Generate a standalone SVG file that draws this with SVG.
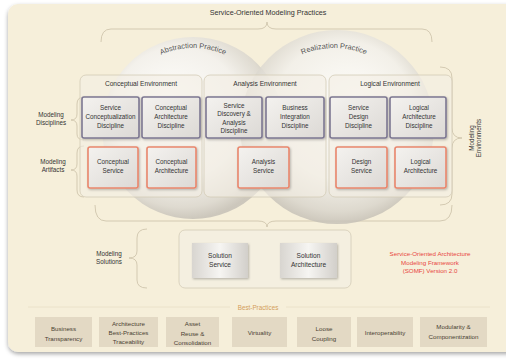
<svg xmlns="http://www.w3.org/2000/svg" width="506" height="361" viewBox="0 0 506 361">
<defs>
<radialGradient id="circL" cx="0.45" cy="0.45" r="0.55" fx="0.35" fy="0.35">
<stop offset="0" stop-color="#ffffff"/>
<stop offset="0.65" stop-color="#f3f1ed"/>
<stop offset="0.9" stop-color="#dcd8cf"/>
<stop offset="1" stop-color="#c8c3b9"/>
</radialGradient>
<radialGradient id="circR" cx="0.5" cy="0.45" r="0.55" fx="0.6" fy="0.35">
<stop offset="0" stop-color="#ffffff"/>
<stop offset="0.65" stop-color="#f2f0eb"/>
<stop offset="0.9" stop-color="#d9d5cc"/>
<stop offset="1" stop-color="#c5c0b6"/>
</radialGradient>
<linearGradient id="boxG" x1="0" y1="0" x2="1" y2="1">
<stop offset="0" stop-color="#f4f2ef"/>
<stop offset="1" stop-color="#dcd9d5"/>
</linearGradient>
<linearGradient id="solG" x1="0" y1="0" x2="1" y2="0">
<stop offset="0" stop-color="#d8d5d0"/>
<stop offset="0.5" stop-color="#f6f5f2"/>
<stop offset="1" stop-color="#d2cfca"/>
</linearGradient>
<filter id="sh" x="-10%" y="-10%" width="130%" height="130%">
<feDropShadow dx="1" dy="1.2" stdDeviation="1" flood-color="#000" flood-opacity="0.25"/>
</filter>
<filter id="bgsh" x="-5%" y="-5%" width="110%" height="110%">
<feDropShadow dx="0" dy="2" stdDeviation="2" flood-color="#000" flood-opacity="0.35"/>
</filter>
<path id="arcL" d="M 113,128 A 80,80 0 0 1 273,128"/>
<path id="arcR" d="M 254,128 A 80,80 0 0 1 414,128"/>
<style>
text{font-family:"Liberation Sans",Arial,sans-serif;fill:#333;text-anchor:middle}
.t{font-size:6.3px}
.h{font-size:6.6px}
.ttl{font-size:7.2px}
.arc{font-size:7.4px;fill:#555}
.env{fill:#f3efe5;fill-opacity:0.6;stroke:#d3cbb6;stroke-width:0.8}
.dis{fill:url(#boxG);stroke:#7c7791;stroke-width:1.6;filter:url(#sh)}
.art{fill:url(#boxG);stroke:#e9866c;stroke-width:1.6;filter:url(#sh)}
.br{fill:none;stroke:#cfc5ad;stroke-width:0.9}
.bp{fill:#e3d9c4}
.bpt{font-size:6.2px;fill:#4a4232}
.red{font-size:6.2px;fill:#e8463e}
.sol{fill:url(#solG);filter:url(#sh)}
</style>
</defs>
<rect x="0" y="0" width="506" height="361" fill="#ffffff"/>
<rect x="8" y="4" width="510" height="348" rx="10" fill="#f6efda" filter="url(#bgsh)"/>

<g id="title"><text class="ttl" x="268" y="15">Service-Oriented Modeling Practices</text></g>

<g id="connectors">
<path class="br" d="M101,42 Q101,29 111,29 L258,29 Q267,29 267,22 Q267,29 276,29 L422,29 Q432,29 432,42"/>
<path class="br" d="M440,67 Q452,67 452,78 L452,128 Q452,138 462,138 Q452,138 452,148 L452,194 Q452,205 440,205"/>
<path class="br" d="M95,205 Q95,221 106,221 L258,221 Q267,221 267,227 Q267,221 276,221 L440,221 Q452,221 452,205"/>
<path class="br" d="M84,97 Q77,97 77,104 L77,114 Q77,120 71,120 Q77,120 77,126 L77,134 Q77,140 84,140"/>
<path class="br" d="M84,146 Q77,146 77,153 L77,164 Q77,170 71,170 Q77,170 77,176 L77,190 Q77,197 84,197"/>
<path class="br" d="M147,229 Q137,229 137,238 L137,251 Q137,258 129,258 Q137,258 137,265 L137,280 Q137,288 147,288"/>
</g>

<g id="circles">
<circle id="abstraction" cx="193" cy="128" r="91" fill="url(#circL)" fill-opacity="0.9"/>
<circle id="realization" cx="337" cy="127" r="97" fill="url(#circR)" fill-opacity="0.85"/>
<text class="arc"><textPath href="#arcL" startOffset="50%">Abstraction Practice</textPath></text>
<text class="arc"><textPath href="#arcR" startOffset="50%">Realization Practice</textPath></text>
</g>

<g id="conceptual-env"><rect class="env" x="80" y="75" width="122" height="122" rx="6"/><text class="h" x="141" y="86">Conceptual Environment</text></g>
<g id="analysis-env"><rect class="env" x="204" y="75" width="122" height="122" rx="6"/><text class="h" x="265" y="86">Analysis Environment</text></g>
<g id="logical-env"><rect class="env" x="329" y="75" width="123" height="122" rx="6"/><text class="h" x="390" y="86">Logical Environment</text></g>

<g id="scd"><rect class="dis" x="82" y="97" width="57" height="41" rx="2"/><text class="t" x="110.5" y="110">Service<tspan x="110.5" dy="9">Conceptualization</tspan><tspan x="110.5" dy="9">Discipline</tspan></text></g>
<g id="cad"><rect class="dis" x="142" y="97" width="58" height="41" rx="2"/><text class="t" x="171" y="110">Conceptual<tspan x="171" dy="9">Architecture</tspan><tspan x="171" dy="9">Discipline</tspan></text></g>
<g id="sdad"><rect class="dis" x="206" y="97" width="56" height="41" rx="2"/><text class="t" x="234" y="108">Service<tspan x="234" dy="8.3">Discovery &amp;</tspan><tspan x="234" dy="8.3">Analysis</tspan><tspan x="234" dy="8.3">Discipline</tspan></text></g>
<g id="bid"><rect class="dis" x="266" y="97" width="58" height="41" rx="2"/><text class="t" x="295" y="110">Business<tspan x="295" dy="9">Integration</tspan><tspan x="295" dy="9">Discipline</tspan></text></g>
<g id="sdd"><rect class="dis" x="330" y="97" width="57" height="41" rx="2"/><text class="t" x="358.5" y="110">Service<tspan x="358.5" dy="9">Design</tspan><tspan x="358.5" dy="9">Discipline</tspan></text></g>
<g id="lad"><rect class="dis" x="390" y="97" width="56" height="41" rx="2"/><text class="t" x="419" y="110">Logical<tspan x="419" dy="9">Architecture</tspan><tspan x="419" dy="9">Discipline</tspan></text></g>

<g id="cs"><rect class="art" x="88" y="147" width="50" height="41" rx="2"/><text class="t" x="113" y="164">Conceptual<tspan x="113" dy="9">Service</tspan></text></g>
<g id="ca"><rect class="art" x="147" y="147" width="49" height="41" rx="2"/><text class="t" x="171.5" y="164">Conceptual<tspan x="171.5" dy="9">Architecture</tspan></text></g>
<g id="as"><rect class="art" x="238" y="147" width="51" height="41" rx="2"/><text class="t" x="263.5" y="164">Analysis<tspan x="263.5" dy="9">Service</tspan></text></g>
<g id="ds"><rect class="art" x="336" y="147" width="51" height="41" rx="2"/><text class="t" x="361.5" y="164">Design<tspan x="361.5" dy="9">Service</tspan></text></g>
<g id="la"><rect class="art" x="395" y="147" width="51" height="41" rx="2"/><text class="t" x="420.5" y="164">Logical<tspan x="420.5" dy="9">Architecture</tspan></text></g>

<g id="labels">
<text class="t" x="51" y="117">Modeling<tspan x="51" dy="8">Disciplines</tspan></text>
<text class="t" x="53" y="164">Modeling<tspan x="53" dy="8">Artifacts</tspan></text>
<text class="t" x="109" y="256">Modeling<tspan x="109" dy="8">Solutions</tspan></text>
<text class="t" transform="translate(474,138) rotate(-90)">Modeling<tspan x="0" dy="7">Environments</tspan></text>
</g>

<g id="solutions"><rect class="env" x="179" y="230" width="172" height="58" rx="6"/></g>
<g id="ss"><rect class="sol" x="192" y="243" width="56" height="35"/><text class="h" x="220" y="258">Solution<tspan x="220" dy="8.5">Service</tspan></text></g>
<g id="sa"><rect class="sol" x="280" y="243" width="57" height="35"/><text class="h" x="308.5" y="258">Solution<tspan x="308.5" dy="8.5">Architecture</tspan></text></g>

<g id="somf"><text class="red" x="430" y="256">Service-Oriented Architecture<tspan x="430" dy="8.6">Modeling Framework</tspan><tspan x="430" dy="8.6">(SOMF) Version 2.0</tspan></text></g>

<g id="best-practices">
<line x1="28" y1="307" x2="230" y2="307" stroke="#eadfc6" stroke-width="0.8"/>
<line x1="286" y1="307" x2="490" y2="307" stroke="#eadfc6" stroke-width="0.8"/>
<text x="258" y="310" style="font-size:6.3px;fill:#d39e5a">Best-Practices</text>
</g>
<g id="bp1"><rect class="bp" x="35" y="317" width="57" height="30"/><text class="bpt" x="63.5" y="331">Business<tspan x="63.5" dy="10">Transparency</tspan></text></g>
<g id="bp2"><rect class="bp" x="99" y="317" width="59" height="30"/><text class="bpt" x="128.5" y="326">Architecture<tspan x="128.5" dy="8.8">Best-Practices</tspan><tspan x="128.5" dy="8.8">Traceability</tspan></text></g>
<g id="bp3"><rect class="bp" x="166" y="317" width="53" height="30"/><text class="bpt" x="192.5" y="326">Asset<tspan x="192.5" dy="9.5">Reuse &amp;</tspan><tspan x="192.5" dy="9.5">Consolidation</tspan></text></g>
<g id="bp4"><rect class="bp" x="232" y="317" width="55" height="30"/><text class="bpt" x="259.5" y="335">Virtuality</text></g>
<g id="bp5"><rect class="bp" x="297" y="317" width="54" height="30"/><text class="bpt" x="324" y="331">Loose<tspan x="324" dy="10">Coupling</tspan></text></g>
<g id="bp6"><rect class="bp" x="357" y="317" width="56" height="30"/><text class="bpt" x="385" y="335">Interoperability</text></g>
<g id="bp7"><rect class="bp" x="420" y="317" width="67" height="30"/><text class="bpt" x="453.5" y="329">Modularity &amp;<tspan x="453.5" dy="10">Componentization</tspan></text></g>
</svg>
